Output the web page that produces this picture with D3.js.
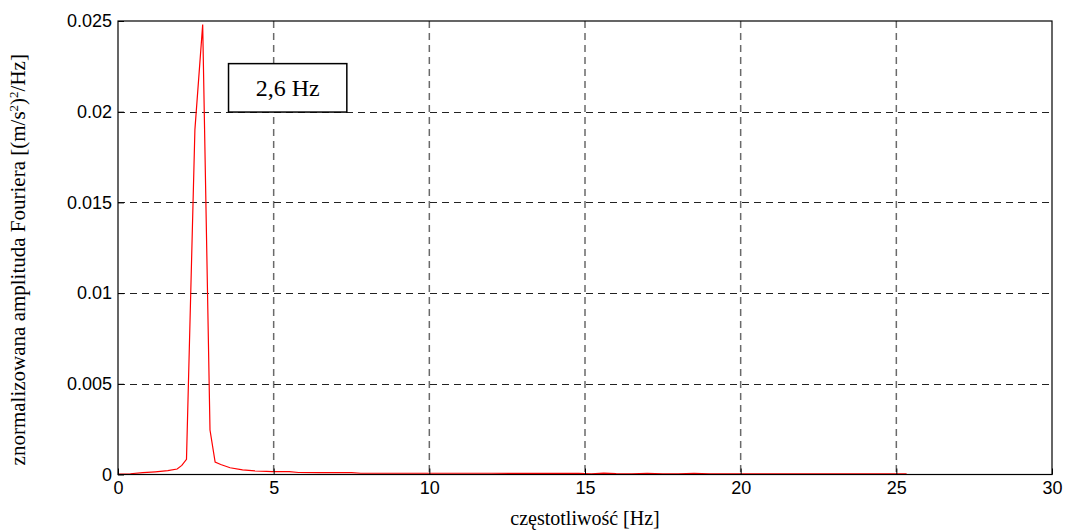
<!DOCTYPE html>
<html><head><meta charset="utf-8">
<script src="https://cdn.jsdelivr.net/npm/d3@7"></script>
<style>
html,body{margin:0;padding:0;background:#fff;}
svg{display:block;}
</style></head>
<body>
<svg id="chart" width="1067" height="532"></svg>
<script>
// Data
const freqHz = [0, 0.4, 0.8, 1.2, 1.6, 1.9, 2.05, 2.2, 2.47, 2.72, 2.955, 3.12, 3.3, 3.6, 4.0, 4.4, 4.96, 5.5, 5.8, 6.5, 7.5, 7.8, 9, 10, 11, 12, 13, 14, 14.8, 15.2, 15.6, 16, 16.5, 17, 17.5, 18, 18.5, 19, 20, 21, 22, 23, 24, 25, 25.33];
const amplitude = [0.00002, 0.00004, 0.0001, 0.00015, 0.00021, 0.0003, 0.0005, 0.00084, 0.019, 0.0248, 0.00245, 0.00068, 0.00055, 0.00037, 0.00026, 0.0002, 0.00016, 0.00016, 0.00011, 0.0001, 0.0001, 0.00007, 0.00007, 0.00007, 0.00007, 0.00007, 0.00006, 0.00006, 0.00006, 0.00004, 0.00008, 0.00005, 0.00004, 0.00006, 0.00004, 0.00004, 0.00007, 0.00004, 0.00004, 0.00004, 0.00004, 0.00004, 0.00004, 0.00004, 0.00004];
const xTicks = [0, 5, 10, 15, 20, 25, 30];
const yTicks = [0, 0.005, 0.01, 0.015, 0.02, 0.025];
const yTickLabels = ["0", "0.005", "0.01", "0.015", "0.02", "0.025"];
const annotation = {text: "2,6 Hz", x0: 3.55, x1: 7.35, y0: 0.02265, y1: 0.01998};

const svg = d3.select("#chart");
const m = {left: 118, right: 1052, top: 21, bottom: 474.5};
const x = d3.scaleLinear().domain([0, 30]).range([m.left, m.right]);
const y = d3.scaleLinear().domain([0, 0.025]).range([m.bottom, m.top]);

// grid
const g = svg.append("g");
g.selectAll(".vg").data(xTicks.slice(1, -1)).join("line")
  .attr("x1", d => x(d)).attr("x2", d => x(d))
  .attr("y1", m.top).attr("y2", m.bottom)
  .attr("stroke", "#6a6a6a").attr("stroke-width", 1.5).attr("stroke-dasharray", "7,5");
g.selectAll(".hg").data(yTicks.slice(1, -1)).join("line")
  .attr("x1", m.left).attr("x2", m.right)
  .attr("y1", d => Math.round(y(d)) + 0.5).attr("y2", d => Math.round(y(d)) + 0.5)
  .attr("stroke", "#222").attr("stroke-width", 1).attr("stroke-dasharray", "7,5");

// line
const line = d3.line().x((d, i) => x(freqHz[i])).y(d => y(d));
svg.append("path").datum(amplitude)
  .attr("d", line).attr("fill", "none")
  .attr("stroke", "#ff0000").attr("stroke-width", 1.2);

// box
svg.append("rect").attr("x", m.left).attr("y", m.top)
  .attr("width", m.right - m.left).attr("height", m.bottom - m.top)
  .attr("fill", "none").attr("stroke", "#000").attr("stroke-width", 1.2);

// axes
const xAxis = d3.axisBottom(x).tickValues(xTicks).tickSize(-6).tickPadding(7).tickFormat(d3.format("d"));
const xa = svg.append("g").attr("transform", `translate(0,${m.bottom})`).call(xAxis);
xa.select(".domain").remove();
xa.selectAll("text").attr("font-family", "Liberation Sans, Arial, sans-serif").attr("font-size", 18).attr("fill", "#000").attr("dy", "0.72em");
xa.selectAll("line").attr("stroke", "#000");

const yAxis = d3.axisLeft(y).tickValues(yTicks).tickSize(-6).tickPadding(6).tickFormat((d, i) => yTickLabels[i]);
const ya = svg.append("g").attr("transform", `translate(${m.left},0)`).call(yAxis);
ya.select(".domain").remove();
ya.selectAll("text").attr("font-family", "Liberation Sans, Arial, sans-serif").attr("font-size", 18).attr("fill", "#000");
ya.selectAll("line").attr("stroke", "#000");

// annotation
svg.append("rect")
  .attr("x", x(annotation.x0)).attr("y", y(annotation.y0))
  .attr("width", x(annotation.x1) - x(annotation.x0))
  .attr("height", y(annotation.y1) - y(annotation.y0))
  .attr("fill", "#fff").attr("stroke", "#000").attr("stroke-width", 1.5);
svg.append("text")
  .attr("x", (x(annotation.x0) + x(annotation.x1)) / 2)
  .attr("y", (y(annotation.y0) + y(annotation.y1)) / 2 + 8)
  .attr("text-anchor", "middle")
  .attr("font-family", "Liberation Serif, Times New Roman, serif").attr("font-size", 24)
  .text(annotation.text);

// axis titles
svg.append("text")
  .attr("x", (m.left + m.right) / 2).attr("y", 525)
  .attr("text-anchor", "middle")
  .attr("font-family", "Liberation Serif, Times New Roman, serif").attr("font-size", 20)
  .text("częstotliwość [Hz]");

const yl = svg.append("text")
  .attr("transform", `translate(25,${(m.top + m.bottom) / 2 + 12}) rotate(-90)`)
  .attr("text-anchor", "middle")
  .attr("font-family", "Liberation Serif, Times New Roman, serif").attr("font-size", 21);
yl.append("tspan").text("znormalizowana amplituda Fouriera [(m/s");
yl.append("tspan").attr("baseline-shift", "super").attr("font-size", 13).text("2");
yl.append("tspan").text(")");
yl.append("tspan").attr("baseline-shift", "super").attr("font-size", 13).text("2");
yl.append("tspan").text("/Hz]");
</script>
</body></html>
